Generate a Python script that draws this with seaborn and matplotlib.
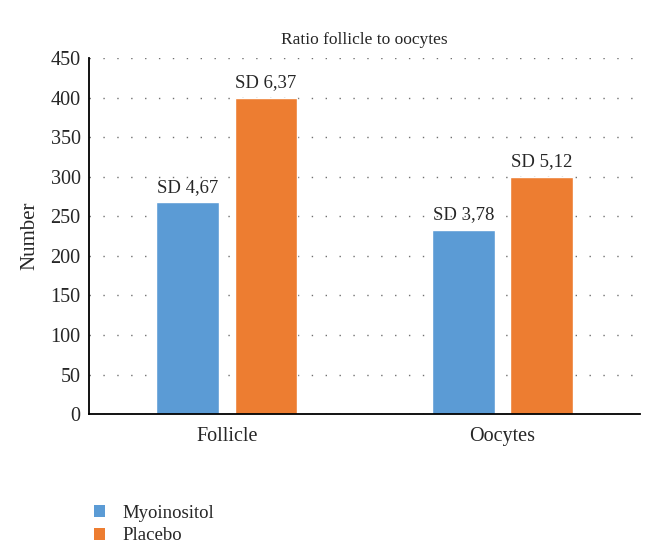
import pandas as pd
import matplotlib
matplotlib.use("Agg")
import matplotlib.pyplot as plt
import seaborn as sns
from matplotlib.patches import Patch

# values
categories = ["Follicle", "Oocytes"]
groups = ["Myoinositol", "Placebo"]
myoinositol = [268, 233]
placebo = [400, 300]
sd_myoinositol = ["SD 4,67", "SD 3,78"]
sd_placebo = ["SD 6,37", "SD 5,12"]
colors = ["#5B9BD5", "#ED7D31"]

df = pd.DataFrame({
    "category": categories * 2,
    "group": [groups[0]] * 2 + [groups[1]] * 2,
    "value": myoinositol + placebo,
})

sns.set_style("white")
plt.rcParams["font.family"] = ["Liberation Serif", "DejaVu Serif"]

fig = plt.figure(figsize=(6.54, 5.47), dpi=100)
ax = fig.add_axes([0.136, 0.243, 0.843, 0.651])

sns.barplot(data=df, x="category", y="value", hue="group", palette=colors,
            width=0.567, gap=0.2, saturation=1, legend=False, ax=ax)

# SD labels above each bar
labels = sd_myoinositol + sd_placebo
for bar, lab in zip(ax.patches, labels):
    ax.text(bar.get_x() + bar.get_width() / 2, bar.get_height() + 8, lab,
            ha="center", va="bottom", fontsize=13.5)

ax.set_ylim(0, 450)
ax.set_yticks(range(0, 451, 50))
ax.yaxis.grid(True, linestyle=(0, (1, 9)), color="#707070", linewidth=1)
ax.set_axisbelow(True)
for s in ["top", "right"]:
    ax.spines[s].set_visible(False)
for s in ["left", "bottom"]:
    ax.spines[s].set_color("black")
    ax.spines[s].set_linewidth(1.3)
ax.tick_params(axis="both", labelsize=14.5, length=0)
ax.tick_params(axis="x", pad=9)
ax.tick_params(axis="y", pad=6)
ax.set_xlabel("")
ax.set_ylabel("Number", fontsize=15, labelpad=8)

fig.text(0.557, 0.927, "Ratio follicle to oocytes", ha="center", va="center", fontsize=12.5)

handles = [Patch(facecolor=c, edgecolor="none") for c in colors]
fig.legend(handles, groups, loc="upper left", bbox_to_anchor=(0.118, 0.108),
           frameon=False, fontsize=13.5, handlelength=0.6, handleheight=0.6,
           handletextpad=0.9, labelspacing=0.3)

fig.savefig("out.png", dpi=100)
